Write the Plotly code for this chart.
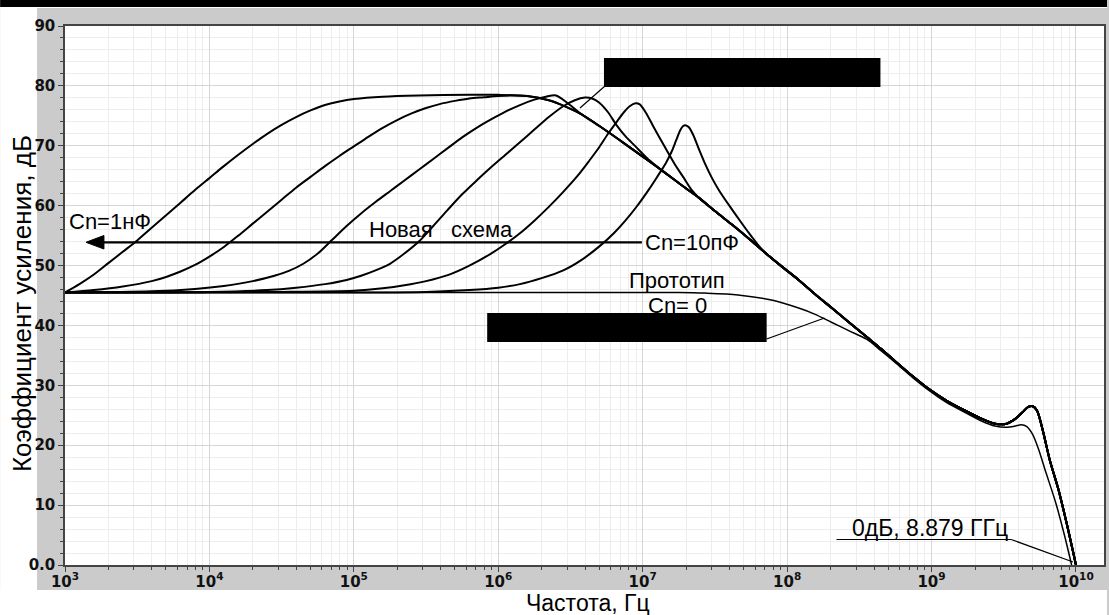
import plotly.graph_objects as go

# ---- data: log10(frequency, Hz) and gain (dB) ----
# common roll-off part shared by all "new scheme" curves
BUNDLE_LG = [5.45, 5.8, 6.0, 6.2, 6.35, 6.47, 6.58, 6.7, 6.82, 6.93, 7.04, 7.16, 7.27, 7.39,
             7.5, 7.62, 7.73, 7.85, 7.96, 8.08, 8.19, 8.31, 8.43, 8.55, 8.65, 8.75, 8.87,
             8.98, 9.1, 9.23, 9.35, 9.44, 9.52, 9.58, 9.63, 9.67, 9.7, 9.73, 9.77, 9.82,
             9.88, 9.94, 10.0]
BUNDLE_DB = [78.4, 78.5, 78.5, 78.3, 77.6, 76.5, 75.2, 73.3, 71.3, 69.4, 67.5, 65.4, 63.4, 61.3,
             59.1, 56.8, 54.6, 52.1, 49.9, 47.6, 45.3, 42.9, 40.5, 38.1, 36.1, 34.0, 31.5,
             29.4, 27.5, 25.8, 24.4, 23.6, 23.6, 24.4, 25.5, 26.4, 26.5, 25.8, 22.5, 17.4,
             12.5, 6.5, 0.0]

# Cn = 1 nF
C1_LG = [3.0, 3.1, 3.2, 3.3, 3.4, 3.5, 3.6, 3.7, 3.8, 3.9, 4.0, 4.1, 4.2, 4.3, 4.4, 4.5,
         4.6, 4.7, 4.8, 4.9, 5.0, 5.2]
C1_DB = [45.5, 46.9, 48.5, 50.4, 52.3, 54.2, 56.3, 58.4, 60.5, 62.6, 64.6, 66.6, 68.5, 70.3,
         72.0, 73.5, 74.8, 75.9, 76.8, 77.4, 77.8, 78.2]
C2_LG = [3.0, 3.2, 3.4, 3.6, 3.7, 3.8, 3.9, 4.0, 4.1, 4.2, 4.3, 4.4, 4.5, 4.6, 4.7, 4.8,
         4.9, 5.0, 5.1, 5.2, 5.3, 5.4, 5.5, 5.6, 5.7, 5.8, 5.9, 6.0, 6.1]
C2_DB = [45.5, 45.9, 46.5, 47.4, 48.1, 49.0, 50.1, 51.5, 53.1, 55.0, 57.0, 59.0, 61.0, 63.0,
         64.8, 66.6, 68.3, 69.9, 71.5, 73.0, 74.3, 75.4, 76.3, 77.0, 77.5, 77.9, 78.1, 78.3, 78.4]
C3_LG = [3.0, 3.6, 3.9, 4.1, 4.3, 4.45, 4.55, 4.65, 4.75, 4.85, 4.95, 5.05, 5.15, 5.25,
         5.35, 5.45, 5.55, 5.65, 5.75, 5.85, 5.95, 6.05, 6.15, 6.25, 6.33, 6.4, 6.47]
C3_DB = [45.5, 45.7, 46.1, 46.6, 47.4, 48.3, 49.1, 50.3, 52.0, 54.3, 56.6, 58.7, 60.6, 62.4,
         64.2, 66.0, 67.8, 69.6, 71.4, 73.0, 74.4, 75.7, 76.8, 77.7, 78.2, 78.4, 77.3]
C4_LG = [3.0, 4.0, 4.4, 4.6, 4.8, 4.95, 5.05, 5.15, 5.25, 5.35, 5.45, 5.55, 5.65, 5.75,
         5.85, 5.95, 6.05, 6.15, 6.25, 6.35, 6.45, 6.53, 6.6, 6.65, 6.7, 6.76, 6.82, 6.88,
         6.95, 7.04]
C4_DB = [45.5, 45.6, 45.9, 46.3, 46.9, 47.6, 48.3, 49.2, 50.3, 52.0, 54.0, 56.6, 59.3, 61.9,
         64.2, 66.4, 68.5, 70.6, 72.7, 74.8, 76.6, 77.6, 78.05, 77.9, 77.2, 75.6, 73.4, 71.6,
         69.9, 67.7]
C5_LG = [3.0, 4.5, 5.0, 5.2, 5.35, 5.5, 5.65, 5.8, 5.95, 6.05, 6.15, 6.25, 6.35, 6.45, 6.55,
         6.63, 6.7, 6.76, 6.82, 6.87, 6.91, 6.95, 6.98, 7.02, 7.07, 7.12, 7.17, 7.22, 7.28, 7.34]
C5_DB = [45.5, 45.6, 45.8, 46.2, 46.7, 47.4, 48.4, 50.0, 52.0, 53.6, 55.4, 57.5, 59.8, 62.3,
         65.0, 67.5, 69.8, 72.0, 74.0, 75.6, 76.6, 77.1, 76.9, 75.6, 73.4, 71.2, 69.1, 67.0,
         64.8, 62.6]
# Cn = 10 pF
C6_LG = [3.0, 5.0, 5.5, 5.8, 6.0, 6.15, 6.3, 6.45, 6.58, 6.7, 6.8, 6.88, 6.96, 7.04, 7.1,
         7.16, 7.2, 7.23, 7.26, 7.28, 7.3, 7.32, 7.35, 7.39, 7.43, 7.48, 7.53, 7.6, 7.67,
         7.73, 7.8]
C6_DB = [45.5, 45.5, 45.6, 45.9, 46.3, 46.9, 47.9, 49.2, 51.0, 53.2, 55.4, 57.5, 59.9, 62.6,
         64.8, 67.1, 69.0, 70.8, 72.6, 73.3, 73.4, 73.1, 71.8, 69.4, 67.1, 64.6, 62.5, 60.0,
         57.6, 55.6, 53.4]
# prototype, Cn = 0
PROTO_LG = [3.0, 4.0, 5.0, 6.0, 6.6, 7.0, 7.25, 7.43, 7.66, 7.9, 8.08, 8.19, 8.31, 8.43, 8.55,
            8.65, 8.75, 8.87, 8.98, 9.1, 9.23, 9.35, 9.44, 9.52, 9.58, 9.62, 9.66, 9.7, 9.74,
            9.79, 9.86, 9.92, 9.97]
PROTO_DB = [45.5, 45.5, 45.5, 45.5, 45.5, 45.5, 45.5, 45.4, 45.1, 44.2, 42.9, 41.9, 40.5, 39.1,
            37.7, 35.8, 33.8, 31.3, 29.2, 27.2, 25.5, 24.0, 23.2, 23.0, 23.2, 23.4, 23.1, 21.8,
            19.4, 15.6, 10.4, 5.0, 0.0]

X_TICK_EXP = [3, 4, 5, 6, 7, 8, 9, 10]
Y_TICKS = [0, 10, 20, 30, 40, 50, 60, 70, 80, 90]
Y_TICK_TEXT = ["0.0", "10", "20", "30", "40", "50", "60", "70", "80", "90"]


def build(own_lg, own_db):
    lg, db = list(own_lg), list(own_db)
    for a, b in zip(BUNDLE_LG, BUNDLE_DB):
        if a > own_lg[-1]:
            lg.append(a)
            db.append(b)
    return [10 ** v for v in lg], db


W, H = 1109, 615
L, R, T, B = 65, 3, 26, 50
PW, PH = W - L - R, H - T - B
DEC = 144.7  # px per decade


def px(x):
    return (x - L) / PW


def py(y):
    return (H - B - y) / PH


fig = go.Figure()
for lg, db in [(C1_LG, C1_DB), (C2_LG, C2_DB), (C3_LG, C3_DB), (C4_LG, C4_DB),
               (C5_LG, C5_DB), (C6_LG, C6_DB)]:
    xs, ys = build(lg, db)
    fig.add_trace(go.Scatter(x=xs, y=ys, mode="lines", showlegend=False, hoverinfo="skip",
                             line=dict(color="black", width=2, shape="spline", smoothing=0.8)))
fig.add_trace(go.Scatter(x=[10 ** v for v in PROTO_LG], y=PROTO_DB, mode="lines",
                         showlegend=False, hoverinfo="skip",
                         line=dict(color="black", width=1.5, shape="spline", smoothing=0.8)))

minor_x = [k * 10 ** e for e in range(3, 11) for k in range(2, 10)]

axis_common = dict(linecolor="#444444", linewidth=1.5, mirror=True, ticks="outside",
                   tickcolor="#444444", ticklen=5, tickwidth=1.2, showgrid=True,
                   gridcolor="#d6d6d6", gridwidth=1, zeroline=False,
                   tickfont=dict(family="DejaVu Sans", size=15, color="#111111", weight="bold"))

fig.update_layout(
    width=W, height=H,
    margin=dict(l=L, r=R, t=T, b=B, pad=0),
    paper_bgcolor="#cbcbcb", plot_bgcolor="white",
    xaxis=dict(type="log", range=[3, 3 + PW / DEC],
               tickvals=[10 ** e for e in X_TICK_EXP],
               ticktext=["10<sup>%d</sup>" % e for e in X_TICK_EXP],
               ticklabelstandoff=-3,
               minor=dict(tickvals=minor_x, ticks="outside", ticklen=3, tickcolor="#444444",
                          showgrid=True, gridcolor="#ededed", gridwidth=1),
               **axis_common),
    yaxis=dict(range=[0, 90], tickvals=Y_TICKS, ticktext=Y_TICK_TEXT,
               minor=dict(dtick=2, ticks="outside", ticklen=3, tickcolor="#444444",
                          showgrid=True, gridcolor="#ededed", gridwidth=1),
               **axis_common),
)

shapes = []
# white surroundings and black top bar
shapes.append(dict(type="rect", xref="paper", yref="paper", x0=px(0), x1=px(37), y0=py(H), y1=py(0),
                   fillcolor="white", line=dict(width=0), layer="below"))
shapes.append(dict(type="rect", xref="paper", yref="paper", x0=px(0), x1=px(W), y0=py(H), y1=py(590),
                   fillcolor="white", line=dict(width=0), layer="below"))
shapes.append(dict(type="rect", xref="paper", yref="paper", x0=px(0), x1=px(W), y0=py(7), y1=py(0),
                   fillcolor="black", line=dict(width=0), layer="below"))
shapes.append(dict(type="rect", xref="paper", yref="paper", x0=px(0), x1=px(W), y0=py(8), y1=py(7),
                   fillcolor="white", line=dict(width=0), layer="below"))
# redaction boxes
shapes.append(dict(type="rect", xref="paper", yref="paper", x0=px(605), x1=px(882), y0=py(87), y1=py(58),
                   fillcolor="black", line=dict(width=0), layer="above"))
shapes.append(dict(type="rect", xref="paper", yref="paper", x0=px(488), x1=px(768), y0=py(342), y1=py(313),
                   fillcolor="black", line=dict(width=0), layer="above"))
# leader lines
for (x0, y0, x1, y1) in [(606, 86, 581, 108), (768, 339, 826, 318),
                         (838, 539.5, 1013, 539.5), (1013, 539.5, 1075, 562)]:
    shapes.append(dict(type="line", xref="paper", yref="paper", x0=px(x0), y0=py(y0),
                       x1=px(x1), y1=py(y1), line=dict(color="black", width=1.2), layer="above"))
# arrow
shapes.append(dict(type="line", xref="paper", yref="paper", x0=px(100), y0=py(242.3),
                   x1=px(643), y1=py(242.3), line=dict(color="black", width=2.2), layer="above"))
tri = "M %f,%f L %f,%f L %f,%f Z" % (px(86), py(242.3), px(104), py(235.5), px(104), py(249))
shapes.append(dict(type="path", xref="paper", yref="paper", path=tri, fillcolor="black",
                   line=dict(color="black", width=1), layer="above"))
fig.update_layout(shapes=shapes)

lab_font = dict(family="Liberation Sans, Arial, sans-serif", size=22, color="black")
labels = [("Cn=1нФ", 67, 221), ("Новая", 368, 229), ("схема", 450, 229),
          ("Cn=10пФ", 644, 242), ("Прототип", 628, 280), ("Cn= 0", 647, 305)]
ann = []
for t, x, y in labels:
    ann.append(dict(text=t, xref="paper", yref="paper", x=px(x), y=py(y), xanchor="left",
                    yanchor="middle", showarrow=False, font=lab_font))
ann.append(dict(text="0дБ, 8.879 ГГц", xref="paper", yref="paper", x=px(852), y=py(528),
                xanchor="left", yanchor="middle", showarrow=False,
                font=dict(family="Liberation Sans, sans-serif", size=23, color="black")))
ann.append(dict(text="Коэффициент усиления, дБ", xref="paper", yref="paper", x=px(22), y=py(304),
                xanchor="center", yanchor="middle", textangle=-90, showarrow=False,
                font=dict(family="Liberation Sans, Arial, sans-serif", size=26, color="black")))
ann.append(dict(text="Частота, Гц", xref="paper", yref="paper", x=px(589), y=py(603),
                xanchor="center", yanchor="middle", showarrow=False,
                font=dict(family="Liberation Sans, sans-serif", size=23, color="black")))
fig.update_layout(annotations=ann)

fig.write_html("out.html", config={"displayModeBar": False},
               post_script="document.body.style.margin='0';document.body.style.overflow='hidden';")
